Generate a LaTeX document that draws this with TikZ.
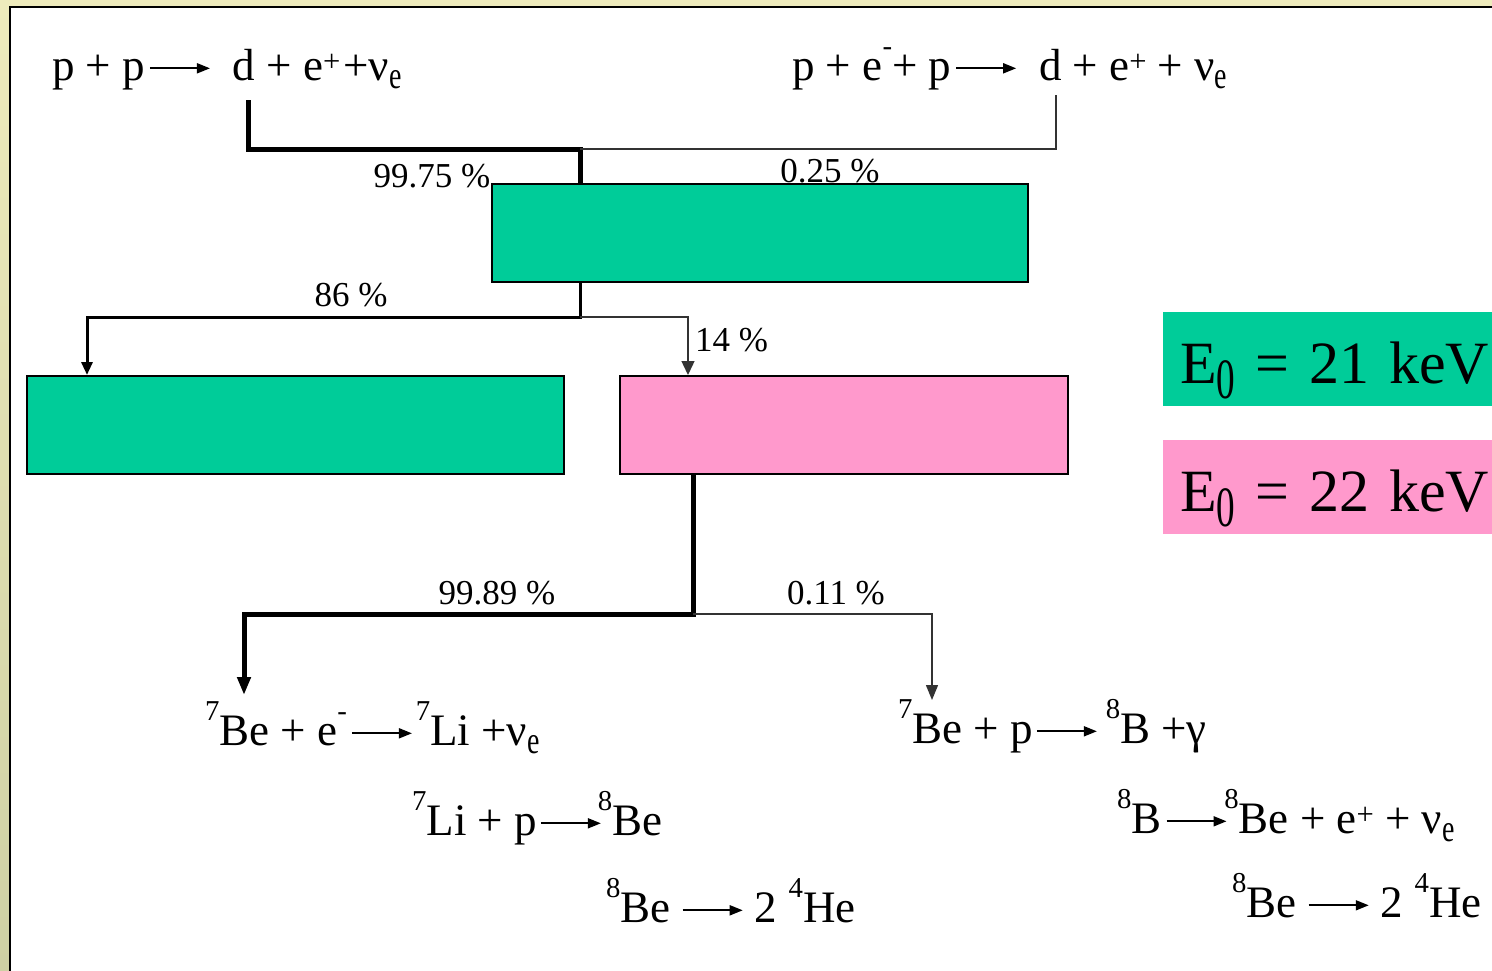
\documentclass[tikz,border=0pt]{standalone}
\usepackage{fontspec}
\setmainfont{Liberation Serif}
\usetikzlibrary{arrows.meta, positioning}
\definecolor{framelt}{RGB}{238,235,188}
\definecolor{framedk}{RGB}{206,208,164}
\definecolor{chaingreen}{RGB}{0,204,153}
\definecolor{chainpink}{RGB}{255,153,204}
\newcommand{\iso}[1]{\raisebox{0.54em}{\scalebox{0.64}{#1}}}
\newcommand{\chg}[1]{\raisebox{0.2em}{\scalebox{0.68}{#1}}}
\newcommand{\lowr}[1]{\raisebox{-0.18em}{\scalebox{0.62}[0.85]{#1}}}
\newcommand{\esub}[1]{\raisebox{-0.25em}{\scalebox{0.62}[0.95]{#1}}}
\newcommand{\yields}{\tikz[baseline]\draw[line width=1.8pt,-{Triangle[length=13pt,width=10pt]}] (0pt,0.26em) -- (60pt,0.26em);}

\begin{document}
\begin{tikzpicture}[x=1pt, y=-1pt,
  reaction/.style={anchor=base west, inner sep=0pt, font=\fontsize{45}{50}\selectfont},
  ratio/.style={anchor=base, inner sep=0pt, font=\fontsize{35}{40}\selectfont},
  stage/.style={draw=black, line width=2pt, minimum width=#1, minimum height=98pt, inner sep=0pt, anchor=north west},
  legend/.style={anchor=north west, minimum width=340pt, minimum height=94pt, inner ysep=0pt, inner xsep=17pt,
    text width=420pt, align=left, text height=50pt, text depth=2pt, font=\fontsize{60}{66}\selectfont},
  heavy/.style={line width=5pt},
  medium/.style={line width=3pt},
  weak/.style={line width=1.4pt, black!80}]
  \useasboundingbox (0,0) rectangle (1492,970);
  \clip (0,0) rectangle (1492,970);

  % frame
  \shade[top color=framelt, bottom color=framedk] (0,0) rectangle (1492,970);
  \draw[line width=2.5pt, fill=white] (10,7) rectangle (1520,1000);

  % branching ratios
  \node[ratio] (r9975) at (432,187) {99.75 \%};
  \node[ratio] (r0025) at (830,182) {0.25 \%};
  \node[ratio] (r86) at (351,306) {86 \%};
  \node[ratio, anchor=base west] (r14) at (695,351) {14 \%};
  \node[ratio] (r9989) at (497,604) {99.89 \%};
  \node[ratio] (r0011) at (836,604) {0.11 \%};

  % stages
  \node[stage=536pt, fill=chaingreen] (dstage) at (491,183) {};
  \node[stage=537pt, fill=chaingreen] (hestage) at (26,375) {};
  \node[stage=448pt, fill=chainpink] (bestage) at (619,375) {};

  % branch points
  \coordinate (ppd) at (248,100);
  \coordinate (pepd) at (1056,95);
  \coordinate (jtop) at (580,149);
  \coordinate (jmid) at (580,317);
  \coordinate (jbot) at (693,614);
  \coordinate (beecap) at (244,695);
  \coordinate (bepcap) at (932,700);

  \draw[heavy] (ppd) |- (jtop) -- (jtop |- dstage.north);
  \draw[weak] (pepd) |- (jtop);
  \draw[medium, -{Triangle[length=13pt,width=11pt]}] (dstage.south -| jmid) -- (jmid) -| ([xshift=61pt]hestage.north west);
  \draw[weak, -{Triangle[length=14pt,width=13pt]}] (jmid) -| ([xshift=69pt]bestage.north west);
  \draw[heavy, -{Triangle[length=18pt,width=13pt]}] (bestage.south -| jbot) -- (jbot) -| (beecap);
  \draw[weak, -{Triangle[length=15pt,width=12pt]}] (jbot) -| (bepcap);

  % reactions
  \node[reaction] (pp) at (52,80) {p + p\hspace{4pt}\yields\hspace{22pt}d + e\chg{+}\hspace{3pt}+ν\lowr{e}};
  \node[reaction] (pep) at (792,80) {p + e\iso{-}+ p\hspace{4pt}\yields\hspace{22pt}d + e\chg{+} + ν\lowr{e}};
  \node[reaction] (beec) at (205,745) {\iso{7}Be + e\iso{-}\hspace{4pt}\yields\hspace{3pt}\iso{7}Li +ν\lowr{e}};
  \node[reaction] (lip) at (412,835) {\iso{7}Li + p\hspace{3pt}\yields\hspace{-4pt}\iso{8}Be};
  \node[reaction] (bealpha) at (606,922) {\iso{8}Be \yields\ 2 \iso{4}He};
  \node[reaction] (bep) at (898,743) {\iso{7}Be + p\hspace{3pt}\yields\hspace{8pt}\iso{8}B +γ};
  \node[reaction] (bdecay) at (1117,833) {\iso{8}B\hspace{4pt}\yields\hspace{-3pt}\iso{8}Be + e\chg{+} + ν\lowr{e}};
  \node[reaction] (bealphab) at (1232,917) {\iso{8}Be \yields\ 2 \iso{4}He};

  % legend
  \node[legend, fill=chaingreen] (lgreen) at (1163,312) {E\esub{0} = 21 keV};
  \node[legend, fill=chainpink] (lpink) at (1163,440) {E\esub{0} = 22 keV};
\end{tikzpicture}
\end{document}
